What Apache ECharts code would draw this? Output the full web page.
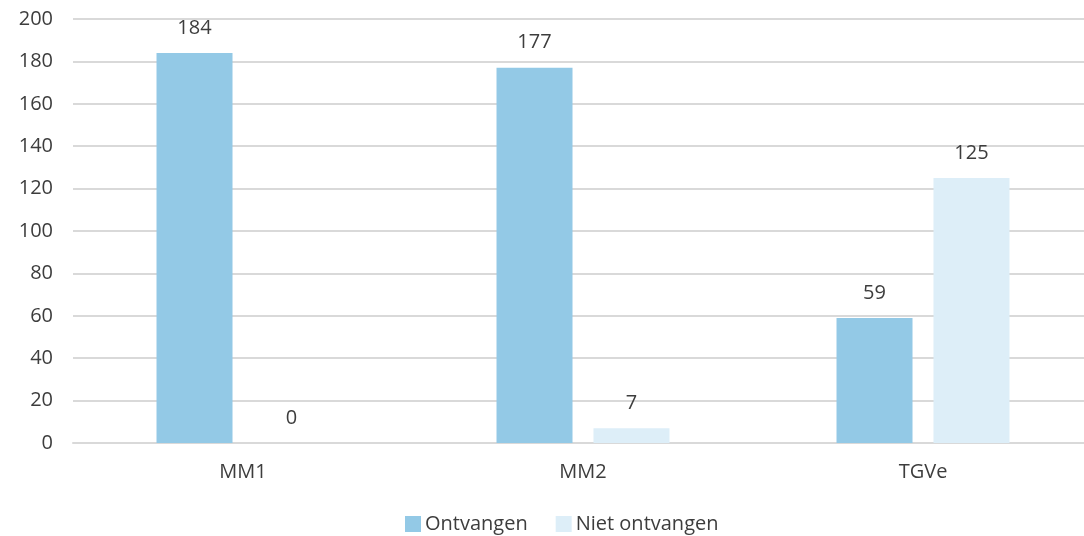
<!DOCTYPE html>
<html>
<head>
<meta charset="utf-8">
<script src="https://cdn.jsdelivr.net/npm/echarts@6/dist/echarts.min.js"></script>
<style>
  html, body { margin: 0; padding: 0; background: #fff; }
  #chart { width: 1084px; height: 536px; }
</style>
</head>
<body>
<div id="chart"></div>
<script>
// Categories and series values
const categories = ['MM1', 'MM2', 'TGVe'];
const ontvangen = [184, 177, 59];
const nietOntvangen = [0, 7, 125];
const seriesNames = ['Ontvangen', 'Niet ontvangen'];

const textColor = '#3d3d3d';
const fontFamily = '"Open Sans", "Noto Sans", sans-serif';
const fontSize = 20;

const chart = echarts.init(document.getElementById('chart'), null, { renderer: 'canvas' });

const labelStyle = {
  show: true,
  position: 'top',
  distance: 15,
  color: textColor,
  fontSize: fontSize,
  fontFamily: fontFamily
};

chart.setOption({
  animation: false,
  backgroundColor: '#ffffff',
  // plot area runs slightly past the right edge of the canvas
  grid: { left: 73, top: 19, width: 1020, bottom: 93, containLabel: false, outerBoundsMode: 'none' },
  legend: {
    data: seriesNames,
    left: 400,
    top: 509,
    itemWidth: 16,
    itemHeight: 16,
    itemGap: 28,
    icon: 'rect',
    textStyle: { color: textColor, fontSize: fontSize, fontFamily: fontFamily, padding: [0, 0, 0, -1] }
  },
  xAxis: {
    type: 'category',
    data: categories,
    axisLine: { show: true, lineStyle: { color: '#d9d9d9', width: 2 } },
    axisTick: { show: false },
    axisLabel: { color: textColor, fontSize: fontSize, fontFamily: fontFamily, margin: 19 }
  },
  yAxis: {
    type: 'value',
    min: 0,
    max: 200,
    interval: 20,
    axisLine: { show: false },
    axisTick: { show: false },
    axisLabel: { color: textColor, fontSize: fontSize, fontFamily: fontFamily, margin: 20 },
    splitLine: { lineStyle: { color: '#d9d9d9', width: 2 } }
  },
  series: [
    {
      name: seriesNames[0],
      type: 'bar',
      data: ontvangen,
      barWidth: 76,
      barGap: '27.6%',
      itemStyle: { color: '#93c9e6' },
      label: labelStyle
    },
    {
      name: seriesNames[1],
      type: 'bar',
      data: nietOntvangen,
      barWidth: 76,
      itemStyle: { color: '#ddeef8' },
      label: labelStyle
    }
  ]
});
</script>
</body>
</html>
